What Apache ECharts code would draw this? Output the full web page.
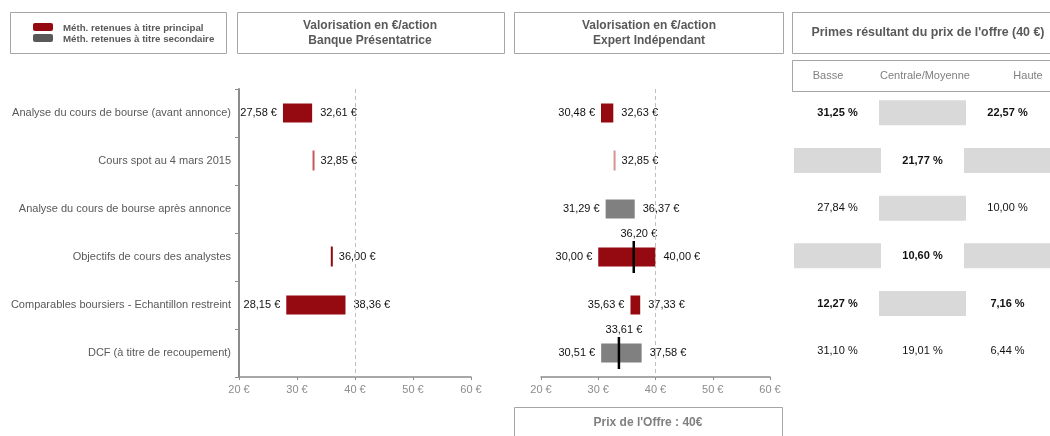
<!DOCTYPE html>
<html>
<head>
  <meta charset="utf-8">
  <title>Valorisation</title>
  <script src="https://cdn.jsdelivr.net/npm/echarts@6/dist/echarts.min.js"></script>
  <style>
    html, body { margin: 0; padding: 0; background: #fff; }
    #main { width: 1050px; height: 436px; }
  </style>
</head>
<body>
<div id="main"></div>
<script>
// categories (rows)
var categories = [
  'Analyse du cours de bourse (avant annonce)',
  'Cours spot au 4 mars 2015',
  'Analyse du cours de bourse après annonce',
  'Objectifs de cours des analystes',
  'Comparables boursiers - Echantillon restreint',
  'DCF (à titre de recoupement)'
];
var xTicks = [20, 30, 40, 50, 60];
var offerPrice = 40;

// Banque Présentatrice
var bankLow  = [27.58, 32.85, null, 36.00, 28.15, null];
var bankHigh = [32.61, 32.85, null, 36.00, 38.36, null];
var bankMid  = [null, null, null, null, null, null];
var bankKind = ['main', 'spot', null, 'line', 'main', null];

// Expert Indépendant
var expLow  = [30.48, 32.85, 31.29, 30.00, 35.63, 30.51];
var expHigh = [32.63, 32.85, 36.37, 40.00, 37.33, 37.58];
var expMid  = [null, null, null, 36.20, null, 33.61];
var expKind = ['main', 'spot2', 'second', 'main', 'main', 'second'];

// primes (null = case grisée)
var primeCols  = ['Basse', 'Centrale/Moyenne', 'Haute'];
var primeBasse = [31.25, null, 27.84, null, 12.27, 31.10];
var primeMoy   = [null, 21.77, null, 10.60, null, 19.01];
var primeHaute = [22.57, null, 10.00, null, 7.16, 6.44];
var primeBold  = [true, true, false, true, true, false];

var colors = {
  main: '#950a10',
  line: '#8a0a10',
  spot: '#c8585c',
  spot2: '#d49494',
  second: '#808080'
};

function eur(v) {
  return v.toFixed(2).replace('.', ',') + ' €';
}
function pct(v) {
  return v.toFixed(2).replace('.', ',') + ' %';
}

var labelStyle = { fill: '#111', font: '11px "Liberation Sans", Arial, sans-serif' };

function makeRender(low, high, mid, kind) {
  return function (params, api) {
    var i = params.dataIndex;
    if (low[i] == null) return;
    var p0 = api.coord([low[i], i]);
    var p1 = api.coord([high[i], i]);
    var h = 19;
    var y = p0[1];
    var children = [];
    var k = kind[i];
    if (low[i] === high[i]) {
      children.push({ type: 'rect', shape: { x: p0[0] - 1, y: y - h / 2 - 1, width: 2, height: h + 1 },
        style: { fill: colors[k] } });
      children.push({ type: 'text', style: Object.assign({ text: eur(high[i]), x: p0[0] + 7, y: y,
        align: 'left', verticalAlign: 'middle' }, labelStyle) });
    } else {
      children.push({ type: 'rect', shape: { x: p0[0], y: y - h / 2, width: p1[0] - p0[0], height: h },
        style: { fill: colors[k] } });
      children.push({ type: 'text', style: Object.assign({ text: eur(low[i]), x: p0[0] - 6, y: y,
        align: 'right', verticalAlign: 'middle' }, labelStyle) });
      children.push({ type: 'text', style: Object.assign({ text: eur(high[i]), x: p1[0] + 8, y: y,
        align: 'left', verticalAlign: 'middle' }, labelStyle) });
    }
    if (mid[i] != null) {
      var pm = api.coord([mid[i], i]);
      children.push({ type: 'line', shape: { x1: pm[0], y1: y - 16, x2: pm[0], y2: y + 16 },
        style: { stroke: '#000', lineWidth: 2.5 } });
      children.push({ type: 'text', style: Object.assign({ text: eur(mid[i]), x: pm[0] + 5, y: y - 23,
        align: 'center', verticalAlign: 'middle' }, labelStyle) });
    }
    return { type: 'group', children: children };
  };
}

function renderPrime(params, api) {
  var row = params.dataIndex % 6;
  var col = Math.floor(params.dataIndex / 6);
  var vals = [primeBasse, primeMoy, primeHaute][col];
  var c = api.coord([col, row]);
  var w = api.size([1, 0])[0] + 2;
  if (vals[row] == null) {
    return { type: 'rect', shape: { x: c[0] - w / 2, y: c[1] - 12.5, width: w, height: 25 },
      style: { fill: '#d9d9d9' } };
  }
  return { type: 'text', style: { text: pct(vals[row]), x: c[0], y: c[1], align: 'center', verticalAlign: 'middle',
    fill: '#111', font: (primeBold[row] ? 'bold ' : '') + '11px "Liberation Sans", Arial, sans-serif' } };
}

var primeData = [];
for (var c = 0; c < 3; c++) {
  for (var r = 0; r < 6; r++) primeData.push([c, r]);
}

function valueAxis(idx) {
  return {
    type: 'value', gridIndex: idx, min: xTicks[0], max: xTicks[xTicks.length - 1], interval: 10,
    axisLine: { show: true, lineStyle: { color: '#8c8c8c', width: 1.5 } },
    axisTick: { show: true, length: 3, lineStyle: { color: '#8c8c8c' } },
    axisLabel: { color: '#8c8c8c', fontSize: 11, fontFamily: 'Liberation Sans', margin: 7,
      formatter: function (v) { return v + ' €'; } },
    splitLine: { show: false }
  };
}

var boxStroke = { fill: 'none', stroke: '#a6a6a6', lineWidth: 1 };
var titleFont = 'bold 12px "Liberation Sans", Arial, sans-serif';
var legendFont = 'bold 9.7px "Liberation Sans", Arial, sans-serif';

var dom = document.getElementById('main');
var myChart = echarts.init(dom);
var option = {
  animation: false,
  grid: [
    { left: 239, width: 232, top: 89, height: 288 },
    { left: 541, width: 229, top: 89, height: 288 },
    { left: 795, width: 271, top: 89, height: 286 }
  ],
  xAxis: [
    valueAxis(0),
    valueAxis(1),
    { type: 'category', gridIndex: 2, data: primeCols, show: false }
  ],
  yAxis: [
    {
      type: 'category', gridIndex: 0, data: categories, inverse: true,
      axisLine: { show: true, lineStyle: { color: '#8c8c8c', width: 2 } },
      axisTick: { show: true, length: 4, lineStyle: { color: '#8c8c8c' } },
      axisLabel: { color: '#595959', fontSize: 11, fontFamily: 'Liberation Sans', margin: 8 }
    },
    { type: 'category', gridIndex: 1, data: categories, inverse: true, show: false },
    { type: 'category', gridIndex: 2, data: categories, inverse: true, show: false }
  ],
  series: [
    {
      type: 'custom', xAxisIndex: 0, yAxisIndex: 0,
      renderItem: makeRender(bankLow, bankHigh, bankMid, bankKind),
      data: categories.map(function (c, i) { return [bankLow[i], i]; }),
      markLine: {
        silent: true, symbol: 'none', label: { show: false },
        lineStyle: { type: [4, 3], color: '#bfbfbf', width: 1 },
        data: [{ xAxis: offerPrice }]
      }
    },
    {
      type: 'custom', xAxisIndex: 1, yAxisIndex: 1,
      renderItem: makeRender(expLow, expHigh, expMid, expKind),
      data: categories.map(function (c, i) { return [expLow[i], i]; }),
      markLine: {
        silent: true, symbol: 'none', label: { show: false },
        lineStyle: { type: [4, 3], color: '#bfbfbf', width: 1 },
        data: [{ xAxis: offerPrice }]
      }
    },
    {
      type: 'custom', xAxisIndex: 2, yAxisIndex: 2,
      renderItem: renderPrime,
      data: primeData
    }
  ],
  graphic: [
    // légende
    { type: 'rect', shape: { x: 10.5, y: 12.5, width: 216, height: 41 }, style: boxStroke },
    { type: 'rect', shape: { x: 33, y: 23, width: 20, height: 8, r: 2 }, style: { fill: colors.main } },
    { type: 'rect', shape: { x: 33, y: 34, width: 20, height: 8, r: 2 }, style: { fill: '#595959' } },
    { type: 'text', style: { text: 'Méth. retenues à titre principal', x: 63, y: 28, verticalAlign: 'middle',
      fill: '#595959', font: legendFont } },
    { type: 'text', style: { text: 'Méth. retenues à titre secondaire', x: 63, y: 39, verticalAlign: 'middle',
      fill: '#595959', font: legendFont } },
    // titres
    { type: 'rect', shape: { x: 237.5, y: 12.5, width: 267, height: 41 }, style: boxStroke },
    { type: 'text', style: { text: 'Valorisation en €/action\nBanque Présentatrice', x: 370, y: 33,
      align: 'center', verticalAlign: 'middle', lineHeight: 15, fill: '#595959', font: titleFont } },
    { type: 'rect', shape: { x: 514.5, y: 12.5, width: 269, height: 41 }, style: boxStroke },
    { type: 'text', style: { text: 'Valorisation en €/action\nExpert Indépendant', x: 649, y: 33,
      align: 'center', verticalAlign: 'middle', lineHeight: 15, fill: '#595959', font: titleFont } },
    { type: 'rect', shape: { x: 792.5, y: 12.5, width: 280, height: 41 }, style: boxStroke },
    { type: 'text', style: { text: "Primes résultant du prix de l'offre (40 €)", x: 928, y: 33,
      align: 'center', verticalAlign: 'middle', fill: '#595959', font: 'bold 12.4px "Liberation Sans", Arial, sans-serif' } },
    { type: 'rect', shape: { x: 792.5, y: 60.5, width: 280, height: 31 }, style: boxStroke },
    { type: 'text', style: { text: primeCols[0], x: 828, y: 76, align: 'center', verticalAlign: 'middle',
      fill: '#808080', font: '11px "Liberation Sans", Arial, sans-serif' } },
    { type: 'text', style: { text: primeCols[1], x: 925, y: 76, align: 'center', verticalAlign: 'middle',
      fill: '#808080', font: '11px "Liberation Sans", Arial, sans-serif' } },
    { type: 'text', style: { text: primeCols[2], x: 1028, y: 76, align: 'center', verticalAlign: 'middle',
      fill: '#808080', font: '11px "Liberation Sans", Arial, sans-serif' } },
    // prix de l'offre
    { type: 'rect', shape: { x: 514.5, y: 407.5, width: 268, height: 40 }, style: boxStroke },
    { type: 'text', style: { text: "Prix de l'Offre : " + offerPrice + '€', x: 648, y: 423,
      align: 'center', verticalAlign: 'middle', fill: '#808080', font: titleFont } }
  ]
};
myChart.setOption(option, true);
</script>
</body>
</html>
